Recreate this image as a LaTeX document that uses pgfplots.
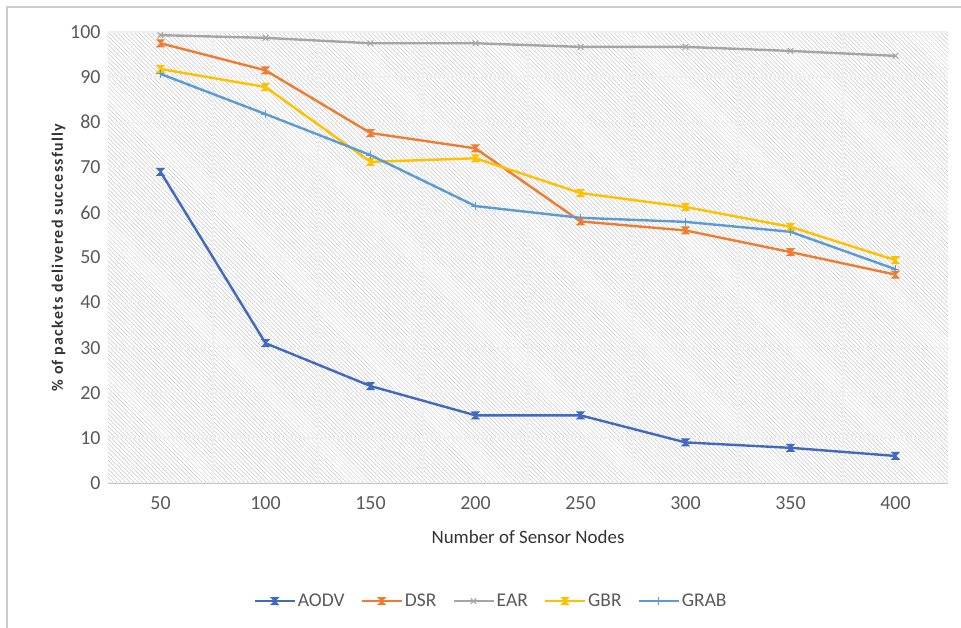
\documentclass[border=0pt]{standalone}
\usepackage{pgfplots}
\pgfplotsset{compat=1.18}
\usepackage{fontspec}
\setmainfont{Carlito}
\usetikzlibrary{patterns.meta}
\definecolor{cAODV}{HTML}{4169C0}
\definecolor{cDSR}{HTML}{ED7D31}
\definecolor{cEAR}{HTML}{A5A5A5}
\definecolor{cGBR}{HTML}{FFC000}
\definecolor{cGRAB}{HTML}{5B9BD5}
\definecolor{txt}{HTML}{595959}
\pgfdeclareplotmark{hourglass}{%
  \pgfpathmoveto{\pgfqpoint{-\pgfplotmarksize}{\pgfplotmarksize}}%
  \pgfpathlineto{\pgfqpoint{\pgfplotmarksize}{\pgfplotmarksize}}%
  \pgfpathlineto{\pgfqpoint{-\pgfplotmarksize}{-\pgfplotmarksize}}%
  \pgfpathlineto{\pgfqpoint{\pgfplotmarksize}{-\pgfplotmarksize}}%
  \pgfpathclose
  \pgfusepathqfillstroke}
\pgfplotstableread{
x AODV DSR EAR GBR GRAB
0 69.0 97.5 99.3 91.8 90.7
1 31.0 91.5 98.7 87.8 81.8
2 21.5 77.6 97.5 71.2 72.7
3 15.0 74.2 97.5 72.0 61.4
4 15.0 58.0 96.7 64.3 58.8
5 9.0 56.0 96.7 61.2 57.9
6 7.8 51.2 95.8 56.8 55.7
7 6.0 46.2 94.7 49.4 47.4
}\datatable
\begin{document}
\begin{tikzpicture}
\useasboundingbox (-108bp,-145bp) rectangle (853bp,483bp);
\draw[gray!40, line width=1.2bp] (-101bp,-145bp) -- (-101bp,476bp) -- (853bp,476bp);
\begin{axis}[
  at={(0,0)}, anchor=south west,
  scale only axis, width=840bp, height=451bp,
  xmin=-0.5, xmax=7.5, ymin=0, ymax=100,
  xtick={0,...,7}, xticklabels={50,100,150,200,250,300,350,400},
  minor xtick={0.5,1.5,...,6.5},
  ytick={0,10,...,100},
  /pgf/number format/assume math mode=true,
  ymajorgrids, xminorgrids,
  grid style={draw=white!88!gray, line width=1.2bp},
  minor grid style={draw=white!88!gray, line width=1.2bp},
  major tick length=0, minor tick length=0,
  axis x line*=bottom, axis y line*=left,
  x axis line style={draw=gray!45, line width=0.8bp, -},
  y axis line style={draw=none},
  axis background/.style={pattern={Lines[angle=-45,distance=3bp,line width=0.5bp]}, pattern color=gray!45},
  tick label style={font=\fontsize{20}{23}\selectfont, text=txt},
  xticklabel style={yshift=-10bp},
  yticklabel style={xshift=-4bp},
  xlabel={Number of Sensor Nodes},
  xlabel style={font=\fontsize{19}{22}\selectfont, text=black!80, yshift=-14bp},
  ylabel={\% of packets delivered successfully},
  ylabel style={font=\bfseries\fontsize{16}{18}\selectfont\addfontfeatures{LetterSpace=8}, text=black!80, yshift=-2bp},
  every axis plot/.append style={line width=2.4bp, mark size=3.5bp, mark options={solid, line width=1bp}},
  legend style={at={(0.456,-0.262)}, anchor=center, draw=none, fill=none,
     font=\fontsize{19.5}{22}\selectfont, text=txt, legend columns=-1,
     /tikz/every even column/.append style={column sep=14bp}},
  legend image code/.code={\draw[mark repeat=2,mark phase=2] plot coordinates {(0bp,0bp) (20bp,0bp) (40bp,0bp)};},
]
\addplot[color=cAODV, mark=hourglass] table[x=x,y=AODV] {\datatable};
\addlegendentry{AODV}
\addplot[color=cDSR, mark=hourglass] table[x=x,y=DSR] {\datatable};
\addlegendentry{DSR}
\addplot[color=cEAR, mark=x, mark size=4bp] table[x=x,y=EAR] {\datatable};
\addlegendentry{EAR}
\addplot[color=cGBR, mark=hourglass] table[x=x,y=GBR] {\datatable};
\addlegendentry{GBR}
\addplot[color=cGRAB, mark=+, mark size=4bp] table[x=x,y=GRAB] {\datatable};
\addlegendentry{GRAB}
\end{axis}
\end{tikzpicture}
\end{document}
